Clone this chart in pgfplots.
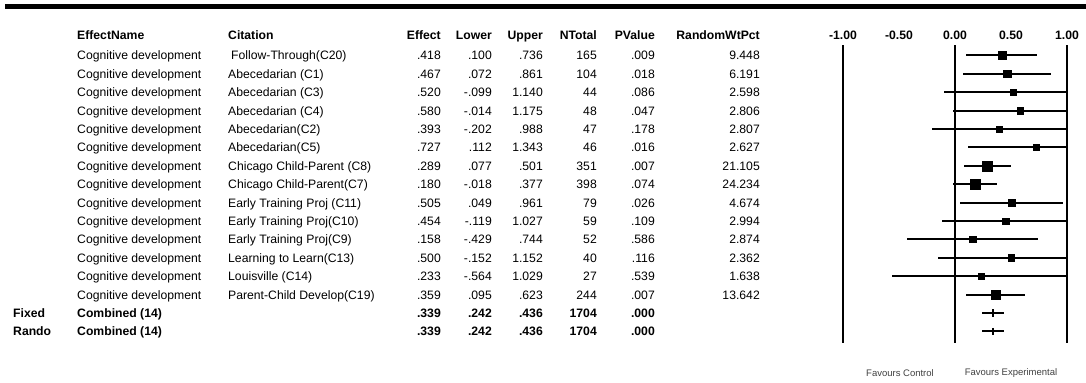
\documentclass[border=0pt]{standalone}
\usepackage{pgfplots}
\pgfplotsset{compat=1.18}
\usepackage{pgfplotstable}
\usepackage{fontspec}
\setmainfont{Liberation Sans}

% Study-level effects with 95% limits, sample size, p and random-effects weight
\pgfplotstableread[col sep=comma]{
row,grp,name,cite,eff,lo,hi,n,p,w
1,,Cognitive development,\hskip3bp Follow-Through(C20),.418,.100,.736,165,.009,9.448
2,,Cognitive development,Abecedarian (C1),.467,.072,.861,104,.018,6.191
3,,Cognitive development,Abecedarian (C3),.520,-.099,1.140,44,.086,2.598
4,,Cognitive development,Abecedarian (C4),.580,-.014,1.175,48,.047,2.806
5,,Cognitive development,Abecedarian(C2),.393,-.202,.988,47,.178,2.807
6,,Cognitive development,Abecedarian(C5),.727,.112,1.343,46,.016,2.627
7,,Cognitive development,Chicago Child-Parent (C8),.289,.077,.501,351,.007,21.105
8,,Cognitive development,Chicago Child-Parent(C7),.180,-.018,.377,398,.074,24.234
9,,Cognitive development,Early Training Proj (C11),.505,.049,.961,79,.026,4.674
10,,Cognitive development,Early Training Proj(C10),.454,-.119,1.027,59,.109,2.994
11,,Cognitive development,Early Training Proj(C9),.158,-.429,.744,52,.586,2.874
12,,Cognitive development,Learning to Learn(C13),.500,-.152,1.152,40,.116,2.362
13,,Cognitive development,Louisville (C14),.233,-.564,1.029,27,.539,1.638
14,,Cognitive development,Parent-Child Develop(C19),.359,.095,.623,244,.007,13.642
15,Fixed,Combined (14),,.339,.242,.436,1704,.000,nan
16,Rando,Combined (14),,.339,.242,.436,1704,.000,nan
}\forestdata

\newcommand\bodyfont{\fontsize{12.2bp}{14bp}\selectfont}

\begin{document}
\begin{tikzpicture}
\useasboundingbox (0,0) rectangle (1086bp,-383bp);

\begin{scope}[x=1bp,y=-1bp,every node/.style={inner sep=0pt,font=\bodyfont}]
  % rule across the top of the report
  \fill[black] (5,4.3) rectangle (1086,9.3);

  % column headings
  \begin{scope}[every node/.append style={font=\bodyfont\bfseries}]
    \node[anchor=base west] at (77,39.4) {EffectName};
    \node[anchor=base west] at (228,39.4) {Citation};
    \node[anchor=base east] at (441,39.4) {Effect};
    \node[anchor=base east] at (492,39.4) {Lower};
    \node[anchor=base east] at (543,39.4) {Upper};
    \node[anchor=base east] at (597,39.4) {NTotal};
    \node[anchor=base east] at (655,39.4) {PValue};
    \node[anchor=base east] at (760,39.4) {RandomWtPct};
  \end{scope}

  % table body, one line per study plus the two pooled lines
  \foreach \r in {0,...,15}{
    \pgfmathsetmacro\yb{55.4+18.4*\r+4.4}
    \ifnum\r>13 \def\ff{\bfseries}\else\def\ff{}\fi
    \pgfplotstablegetelem{\r}{grp}\of\forestdata
    \node[anchor=base west,font=\bodyfont\bfseries] at (13,\yb) {\pgfplotsretval};
    \pgfplotstablegetelem{\r}{name}\of\forestdata
    \node[anchor=base west,font=\bodyfont\ff] at (77,\yb) {\pgfplotsretval};
    \pgfplotstablegetelem{\r}{cite}\of\forestdata
    \node[anchor=base west] at (228,\yb) {\pgfplotsretval};
    \foreach \c/\xx in {eff/441,lo/492,hi/543,n/597,p/655}{
      \pgfplotstablegetelem{\r}{\c}\of\forestdata
      \node[anchor=base east,font=\bodyfont\ff] at (\xx,\yb) {\pgfplotsretval};
    }
    \ifnum\r<14
      \pgfplotstablegetelem{\r}{w}\of\forestdata
      \node[anchor=base east] at (760,\yb) {\pgfplotsretval};
    \fi
  }

  \node[font=\fontsize{9.5bp}{11bp}\selectfont,text=black!75] at (900,373) {Favours Control};
  \node[font=\fontsize{9.5bp}{11bp}\selectfont,text=black!75] at (1011,373) {Favours Experimental};
\end{scope}

\begin{axis}[
  at={(843bp,-343bp)}, anchor=south west,
  scale only axis, width=224bp, height=298bp,
  xmin=-1, xmax=1, ymin=0.4348, ymax=16.630, y dir=reverse,
  axis line style={draw=none},
  ytick=\empty,
  xtick={-1,-0.5,0,0.5,1},
  xticklabels={-1.00,-0.50,0.00,0.50,1.00},
  xticklabel pos=upper,
  major tick length=0pt,
  tick style={draw=none},
  xticklabel style={font=\bodyfont\bfseries, anchor=base, inner sep=0pt, yshift=5.6bp},
  extra x ticks={-1,0,1}, extra x tick labels={},
  extra x tick style={grid=major},
  major grid style={black, line width=2.4bp},
]
  % individual studies: square size grows with random-effects weight
  \addplot[
    scatter, only marks, mark=square*,
    scatter/use mapped color={draw=black, fill=black},
    visualization depends on={2.15+0.645*sqrt(\thisrow{w}) \as \msz},
    scatter/@pre marker code/.append style={/tikz/mark size=\msz},
    skip coords between index={14}{16},
    error bars/.cd, x dir=both, x explicit, error mark=none,
    error bar style={black, line width=1.9bp},
  ] table[x expr=\thisrow{eff}, y=row,
          x error plus expr=\thisrow{hi}-\thisrow{eff},
          x error minus expr=\thisrow{eff}-\thisrow{lo}] {\forestdata};

  % pooled fixed and random estimates
  \addplot[
    only marks, mark=|, mark size=3.6bp, black,
    mark options={line width=1.6bp},
    skip coords between index={0}{14},
    error bars/.cd, x dir=both, x explicit, error mark=none,
    error bar style={black, line width=1.9bp},
  ] table[x expr=\thisrow{eff}, y=row,
          x error plus expr=\thisrow{hi}-\thisrow{eff},
          x error minus expr=\thisrow{eff}-\thisrow{lo}] {\forestdata};
\end{axis}
\end{tikzpicture}
\end{document}
